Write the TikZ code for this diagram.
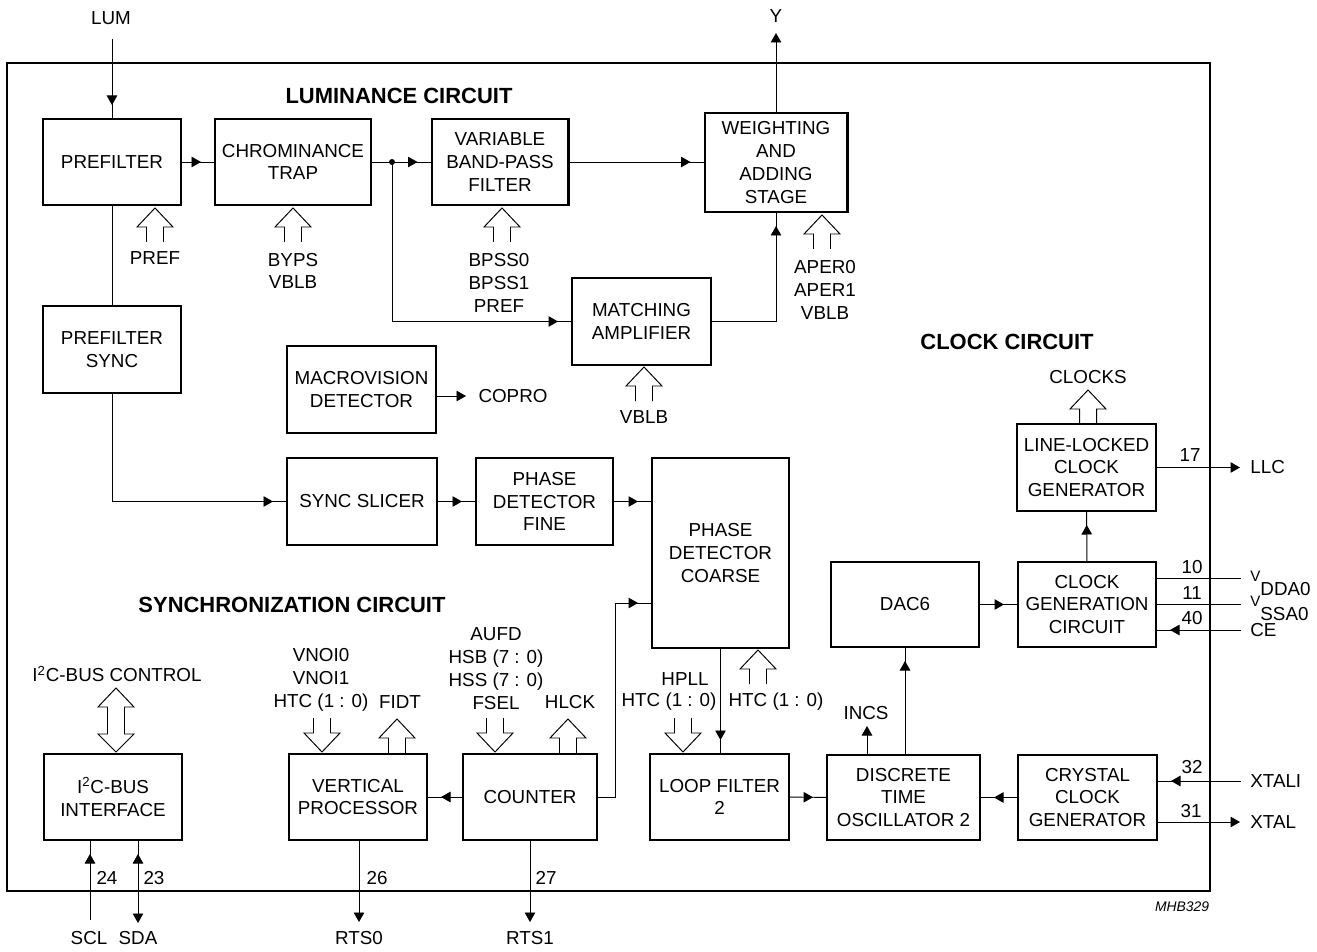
\documentclass[tikz,border=0pt]{standalone}
\usepackage{fontspec}
\setmainfont{Liberation Sans}
\usetikzlibrary{arrows.meta,decorations.markings}
\newcommand{\BH}{1.72cm}
\newcommand{\TXT}{\fontsize{10.7}{13}\selectfont}
\newcommand{\SupV}{\raisebox{7.5pt}{\fontsize{8.6}{9}\selectfont V}}

\begin{document}
\begin{tikzpicture}[
    x=0.02cm, y=-0.02cm,
    >={Triangle[length=1.9mm, width=2.1mm]},
    txt/.style={font=\TXT, inner sep=0pt, align=center},
    blk/.style={txt, draw, line width=1.15pt, minimum height=\BH},
    ttl/.style={font=\fontsize{12.5}{15}\selectfont\bfseries, inner sep=0pt},
    wire/.style={line width=0.55pt},
    sig/.style={wire, postaction={decorate},
      decoration={markings, mark=at position -2.6mm with {\arrow{>}}}},
    outw/.style={wire, ->},
    bus/.style={line width=0.55pt},
    busup/.pic={\draw[bus] (-8.5,34) -- (-8.5,19) -- (-18,19) -- (0,0) -- (18,19) -- (8.5,19) -- (8.5,34);},
    busdown/.pic={\draw[bus] (-8.5,-34) -- (-8.5,-19) -- (-18,-19) -- (0,0) -- (18,-19) -- (8.5,-19) -- (8.5,-34);},
    busboth/.pic={\draw[bus] (0,0) -- (18,19) -- (8.5,19) -- (8.5,46) -- (18,46) -- (0,64)
      -- (-18,46) -- (-8.5,46) -- (-8.5,19) -- (-18,19) -- cycle;},
  ]

  \useasboundingbox (0,0) rectangle (1317,952);
  \draw[line width=1.2pt] (7,63) rectangle (1210,891);

  %% ================= luminance circuit =================
  \node[ttl] (lumtitle) at (399,96) {LUMINANCE CIRCUIT};
  \node[blk, minimum width=2.76cm] (pref) at (112,162) {PREFILTER};
  \node[blk, minimum width=3.12cm] (ctrap) at (293,162) {CHROMINANCE\\TRAP};
  \node[blk, minimum width=2.74cm] (vbpf) at (500,162) {VARIABLE\\BAND-PASS\\FILTER};
  \node[blk, minimum width=2.86cm, minimum height=1.98cm] (was) at (776,162.5) {WEIGHTING\\AND\\ADDING\\STAGE};
  \node[blk, minimum width=2.76cm, minimum height=1.74cm] (psync) at (112,349.5) {PREFILTER\\SYNC};
  \node[blk, minimum width=2.78cm, minimum height=1.74cm] (mamp) at (641.5,321.5) {MATCHING\\AMPLIFIER};
  \node[blk, minimum width=2.98cm, minimum height=1.74cm] (macro) at (361.5,389.5) {MACROVISION\\DETECTOR};

  \node[txt] (lumlbl) at (111,18) {LUM};
  \node[txt] (ylbl) at (776,16) {Y};
  \node[txt] (preflbl) at (155,258) {PREF};
  \node[txt] (bypslbl) at (293,271) {BYPS\\VBLB};
  \node[txt] (bpsslbl) at (499,283) {BPSS0\\BPSS1\\PREF};
  \node[txt] (aperlbl) at (825,290) {APER0\\APER1\\VBLB};
  \node[txt] (vblblbl) at (644,417) {VBLB};
  \node[txt] (coprolbl) at (513,396) {COPRO};

  \pic (prefbus) at (155,208) {busup};
  \pic (bypsbus) at (293,208) {busup};
  \pic (bpssbus) at (502,208) {busup};
  \pic (aperbus) at (822,215) {busup};
  \pic (mampbus) at (644,367) {busup};

  \coordinate (lumin) at (112,39);
  \coordinate (split) at (392,162);
  \coordinate (yout) at (776,33);
  \coordinate (copro) at (466,396);
  \draw[sig] (lumin) -- (pref);
  \draw[sig] (pref) -- (ctrap);
  \draw[sig] (ctrap) -- (vbpf);
  \fill (split) circle (1.7pt);
  \draw[sig] (split) |- (mamp);
  \draw[sig] (vbpf) -- (was.west |- vbpf);
  \draw[outw] (was) -- (yout);
  \draw[sig] (mamp.east) -| (was);
  \draw[wire] (pref) -- (psync);
  \draw[outw] (macro.east |- copro) -- (copro);

  %% ================= synchronization circuit =================
  \node[ttl] (synctitle) at (292,605) {SYNCHRONIZATION CIRCUIT};
  \node[blk, minimum width=3.0cm, minimum height=1.74cm] (slicer) at (362,501.5) {SYNC SLICER};
  \node[blk, minimum width=2.74cm, minimum height=1.74cm] (pdfine) at (544.5,501.5) {PHASE\\DETECTOR\\FINE};
  \node[blk, minimum width=2.74cm, minimum height=3.8cm] (pdcoarse) at (720.5,553) {PHASE\\DETECTOR\\COARSE};
  \node[blk, minimum width=2.68cm] (counter) at (530,797) {COUNTER};
  \node[blk, minimum width=2.76cm] (vproc) at (358,797) {VERTICAL\\PROCESSOR};
  \node[blk, minimum width=2.76cm] (i2c) at (113,797) {I\textsuperscript{2}C-BUS\\INTERFACE};
  \node[blk, minimum width=2.78cm] (loopf) at (719.5,797) {LOOP FILTER\\2};

  \node[txt] (i2cctl) at (117,674) {I\textsuperscript{2}C-BUS CONTROL};
  \node[txt] (vnoilbl) at (321,680) {VNOI0\\VNOI1\\HTC (1 : 0)};
  \node[txt] (fidtlbl) at (400,702) {FIDT};
  \node[txt] (aufdlbl) at (496,668.5) {AUFD\\HSB (7 : 0)\\HSS (7 : 0)\\FSEL};
  \node[txt] (hlcklbl) at (570,702) {HLCK};
  \node[txt] (hplllbl) at (685,679) {HPLL};
  \node[txt] (htclbl) at (669,702) {HTC (1 : 0)};
  \node[txt] (htcclbl) at (776,702) {HTC (1 : 0)};
  \node[txt] (pin24) at (107,878) {24};
  \node[txt] (pin23) at (154,878) {23};
  \node[txt] (pin26) at (377,878) {26};
  \node[txt] (pin27) at (546,878) {27};
  \node[txt] (scllbl) at (89,938) {SCL};
  \node[txt] (sdalbl) at (138,938) {SDA};
  \node[txt] (rts0lbl) at (359,938) {RTS0};
  \node[txt] (rts1lbl) at (530,938) {RTS1};

  \pic (i2cbus) at (116,688) {busboth};
  \pic (vnoibus) at (322,752) {busdown};
  \pic (fidtbus) at (397,719) {busup};
  \pic (fselbus) at (495,752) {busdown};
  \pic (hlckbus) at (568,719) {busup};
  \pic (hpllbus) at (683,752) {busdown};
  \pic (htcbus) at (758,650) {busup};

  \coordinate (pdcin) at (615,603);
  \coordinate (rts0) at (359,922);
  \coordinate (rts1) at (530,922);
  \coordinate (scl) at (90,920);
  \coordinate (sda) at (138,923);
  \draw[sig] (psync) |- (slicer);
  \draw[sig] (slicer) -- (pdfine);
  \draw[sig] (pdfine) -- (pdfine -| pdcoarse.west);
  \draw[sig] (counter) -| (pdcin) -- (pdcin -| pdcoarse.west);
  \draw[sig] (pdcoarse.south) -- (pdcoarse.south |- loopf.north);
  \draw[sig] (counter) -- (vproc);
  \draw[outw] (rts0 |- vproc.south) -- (rts0);
  \draw[outw] (counter) -- (rts1);
  \draw[sig] (scl) -- (scl |- i2c.south);
  \draw[sig, <-] (sda) -- (sda |- i2c.south);

  %% ================= clock circuit =================
  \node[ttl] (clktitle) at (1007,342) {CLOCK CIRCUIT};
  \node[blk, minimum width=2.78cm, minimum height=1.74cm] (llc) at (1086.5,467.5) {LINE-LOCKED\\CLOCK\\GENERATOR};
  \node[blk, minimum width=2.96cm, minimum height=1.7cm] (dac) at (905,604.5) {DAC6};
  \node[blk, minimum width=2.76cm, minimum height=1.7cm] (cgen) at (1087,604.5) {CLOCK\\GENERATION\\CIRCUIT};
  \node[blk, minimum width=3.06cm, minimum height=1.7cm] (dto) at (903.5,797.5) {DISCRETE\\TIME\\OSCILLATOR 2};
  \node[blk, minimum width=2.78cm, minimum height=1.7cm] (xtal) at (1087.5,797.5) {CRYSTAL\\CLOCK\\GENERATOR};

  \node[txt] (clkslbl) at (1088,377) {CLOCKS};
  \node[txt] (incslbl) at (866,713) {INCS};
  \node[txt] (pin17) at (1190,455) {17};
  \node[txt] (pin10) at (1192,567) {10};
  \node[txt] (pin11) at (1192,593) {11};
  \node[txt] (pin40) at (1192,618) {40};
  \node[txt] (pin32) at (1192,767) {32};
  \node[txt] (pin31) at (1191,811) {31};
  \node[txt, anchor=west] (llclbl) at (1250,467.5) {LLC};
  \node[txt, anchor=base west] (vddlbl) at (1250,595) {\SupV DDA0};
  \node[txt, anchor=base west] (vsslbl) at (1250,620) {\SupV SSA0};
  \node[txt, anchor=west] (celbl) at (1250,630) {CE};
  \node[txt, anchor=west] (xtalilbl) at (1250,781) {XTALI};
  \node[txt, anchor=west] (xtallbl) at (1250,822) {XTAL};
  \node[font=\fontsize{7.9}{9}\selectfont\itshape, inner sep=0pt] (mhb) at (1182,907) {MHB329};

  \pic (clkbus) at (1088,390) {busup};

  \coordinate (incs) at (867,726);
  \coordinate (llcout) at (1240,467.5);
  \coordinate (vdd) at (1241,578);
  \coordinate (vss) at (1241,604);
  \coordinate (cein) at (1241,630);
  \coordinate (xti) at (1241,781);
  \coordinate (xto) at (1240,822);
  \draw[sig] (loopf) -- (dto);
  \draw[sig] (xtal) -- (dto);
  \draw[sig] (dac.south |- dto.north) -- (dac.south);
  \draw[outw] (incs |- dto.north) -- (incs);
  \draw[sig] (dac) -- (cgen);
  \draw[sig] (cgen) -- (llc);
  \draw[outw] (llc) -- (llcout);
  \draw[wire] (cgen.east |- vdd) -- (vdd);
  \draw[wire] (cgen.east |- vss) -- (vss);
  \draw[sig] (cein) -- (cgen.east |- cein);
  \draw[sig] (xti) -- (xtal.east |- xti);
  \draw[outw] (xtal.east |- xto) -- (xto);

\end{tikzpicture}
\end{document}
